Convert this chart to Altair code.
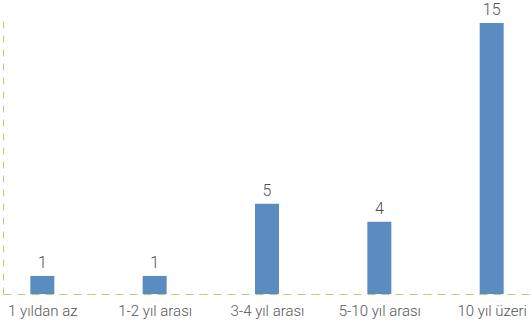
import altair as alt
import pandas as pd

categories = ["1 yıldan az", "1-2 yıl arası", "3-4 yıl arası", "5-10 yıl arası", "10 yıl üzeri"]
values = [1, 1, 5, 4, 15]

df = pd.DataFrame({"kategori": categories, "deger": values})

FONT = "Roboto"
GREEN = "#A9D873"
BAR = "#5B8CC1"

x = alt.X(
    "kategori:N",
    sort=categories,
    scale=alt.Scale(type="point", padding=0.35),
    axis=alt.Axis(
        title=None,
        labelAngle=0,
        ticks=False,
        labelFont=FONT,
        labelFontSize=15,
        labelFontWeight=300,
        labelColor="#555555",
        labelPadding=9,
        domainColor=GREEN,
        domainDash=[8, 6],
        domainWidth=1,
        grid=False,
    ),
)
y = alt.Y(
    "deger:Q",
    scale=alt.Scale(domain=[0, 15.5], nice=False),
    axis=alt.Axis(
        title=None,
        labels=False,
        ticks=False,
        grid=False,
        domainColor=GREEN,
        domainDash=[7, 7],
        domainWidth=1,
    ),
)

base = alt.Chart(df)
bars = base.mark_bar(size=24, color=BAR).encode(x=x, y=y)
labels = base.mark_text(
    baseline="bottom", dy=-5, font=FONT, fontSize=16, fontWeight=300, color="#505050"
).encode(x=x, y=y, text="deger:Q")

chart = (
    (bars + labels)
    .properties(
        width=528,
        height=280,
        autosize=alt.AutoSizeParams(type="none"),
        padding={"left": 3, "top": 14, "right": 0, "bottom": 31},
    )
    .configure_view(stroke=None)
)

chart.save("out.html", embed_options={"renderer": "svg", "actions": False})
